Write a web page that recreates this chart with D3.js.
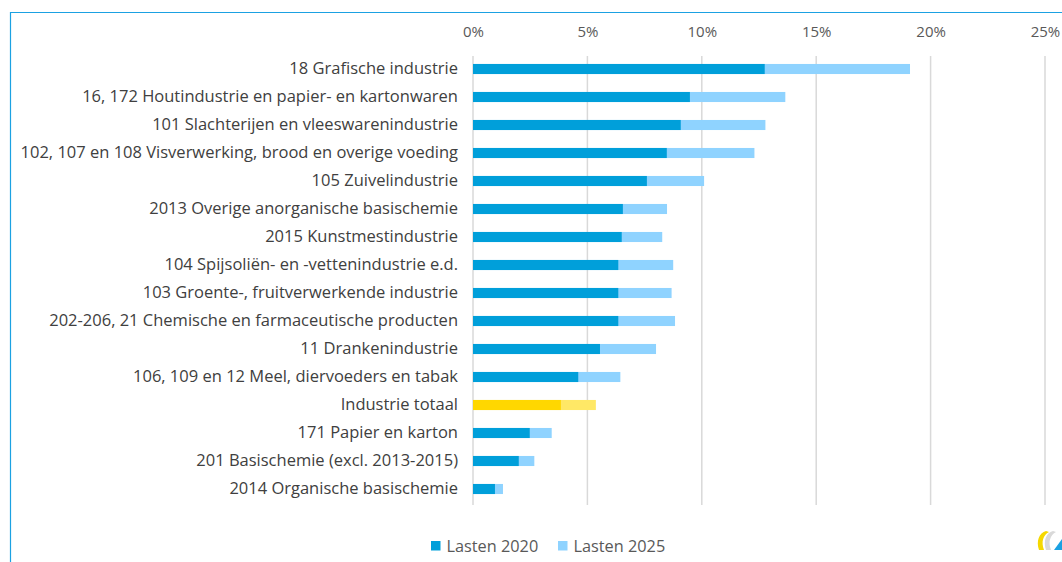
<!DOCTYPE html>
<html>
<head>
<meta charset="utf-8">
<script src="https://cdn.jsdelivr.net/npm/d3@7"></script>
<style>
  body { margin: 0; background: #fff; }
  svg { display: block; font-family: "Open Sans", "Noto Sans", sans-serif; }
</style>
</head>
<body>
<div id="chart"></div>
<script>
var categories = [
  "18 Grafische industrie",
  "16, 172 Houtindustrie en papier- en kartonwaren",
  "101 Slachterijen en vleeswarenindustrie",
  "102, 107 en 108 Visverwerking, brood en overige voeding",
  "105 Zuivelindustrie",
  "2013 Overige anorganische basischemie",
  "2015 Kunstmestindustrie",
  "104 Spijsoliën- en -vettenindustrie e.d.",
  "103 Groente-, fruitverwerkende industrie",
  "202-206, 21 Chemische en farmaceutische producten",
  "11 Drankenindustrie",
  "106, 109 en 12 Meel, diervoeders en tabak",
  "Industrie totaal",
  "171 Papier en karton",
  "201 Basischemie (excl. 2013-2015)",
  "2014 Organische basischemie"
];
var lasten2020 = [12.75, 9.48, 9.08, 8.47, 7.6, 6.55, 6.5, 6.35, 6.35, 6.35, 5.55, 4.6, 3.84, 2.48, 2.0, 0.96];
var lasten2025 = [19.1, 13.65, 12.78, 12.3, 10.1, 8.48, 8.27, 8.75, 8.68, 8.83, 8.0, 6.44, 5.37, 3.44, 2.68, 1.31];
var highlight = "Industrie totaal";
var ticks = [0, 5, 10, 15, 20, 25];
var seriesNames = ["Lasten 2020", "Lasten 2025"];

var W = 1062, H = 562;
var svg = d3.select("#chart").append("svg")
  .attr("width", W)
  .attr("height", H);

// --- frame ---
svg.append("path")
  .attr("d", "M10.5," + H + "V12.5H" + W)
  .attr("fill", "none")
  .attr("stroke", "#1ba1e2")
  .attr("stroke-width", 1.2);

// --- scales ---
var scX = d3.scaleLinear().domain([0, 25]).range([473, 1045]);
var scY = d3.scaleBand().domain(categories).range([55, 503]).paddingInner(0.64).paddingOuter(0.32);

// --- grid ---
svg.append("g")
  .selectAll("line")
  .data(ticks)
  .enter()
  .append("line")
  .attr("x1", d => scX(d)).attr("x2", d => scX(d))
  .attr("y1", 56).attr("y2", 505)
  .attr("stroke", "#d9d9d9")
  .attr("stroke-width", 1.5);

// --- top axis labels ---
var axTop = svg.append("g")
  .attr("transform", "translate(0,37)")
  .call(d3.axisTop(scX).tickValues(ticks).tickSize(0).tickPadding(0).tickFormat(d => d + "%"));
axTop.select(".domain").remove();
axTop.selectAll("text")
  .attr("fill", "#595959")
  .style("font-size", "15px")
  .style("font-family", "'Open Sans', sans-serif");

// --- bars ---
var light = d => d === highlight ? "#ffe866" : "#8fd3ff";
var dark = d => d === highlight ? "#ffd700" : "#009fda";

svg.append("g")
  .selectAll("rect")
  .data(categories)
  .enter()
  .append("rect")
  .attr("x", scX(0))
  .attr("y", d => scY(d))
  .attr("height", scY.bandwidth())
  .attr("width", (d, i) => scX(lasten2025[i]) - scX(0))
  .attr("fill", light);

svg.append("g")
  .selectAll("rect")
  .data(categories)
  .enter()
  .append("rect")
  .attr("x", scX(0))
  .attr("y", d => scY(d))
  .attr("height", scY.bandwidth())
  .attr("width", (d, i) => scX(lasten2020[i]) - scX(0))
  .attr("fill", dark);

// --- category labels ---
var axLeft = svg.append("g")
  .attr("transform", "translate(458,0)")
  .call(d3.axisLeft(scY).tickSize(0).tickPadding(0));
axLeft.select(".domain").remove();
axLeft.selectAll("text")
  .attr("fill", "#404040")
  .style("font-size", "16.5px")
  .style("font-family", "'Open Sans', sans-serif");

// --- legend ---
var legX = [431, 558];
var leg = svg.append("g");
leg.selectAll("rect")
  .data(seriesNames)
  .enter()
  .append("rect")
  .attr("x", (d, i) => legX[i])
  .attr("y", 541)
  .attr("width", 9.5).attr("height", 9.5)
  .attr("fill", (d, i) => i === 0 ? "#009fda" : "#8fd3ff");
leg.selectAll("text")
  .data(seriesNames)
  .enter()
  .append("text")
  .attr("x", (d, i) => legX[i] + 15.5)
  .attr("y", 551.5)
  .attr("fill", "#595959")
  .style("font-size", "16.3px")
  .text(d => d);

// --- logo (partially cut off at the edge) ---
var logo = svg.append("g").attr("transform", "translate(1036,531)");
logo.append("path")
  .attr("d", "M10,0 C3,2 0,10 3,19 L8,19 C5,11 7,4 13,1 Z")
  .attr("fill", "#f5d800");
logo.append("path")
  .attr("d", "M17,0 C10,2 7,10 10,19 L15,19 C12,11 14,4 20,1 Z")
  .attr("fill", "#d9d9d9");
logo.append("path")
  .attr("d", "M18,19 L26,8 L26,19 Z")
  .attr("fill", "#1ba1e2");
</script>
</body>
</html>
